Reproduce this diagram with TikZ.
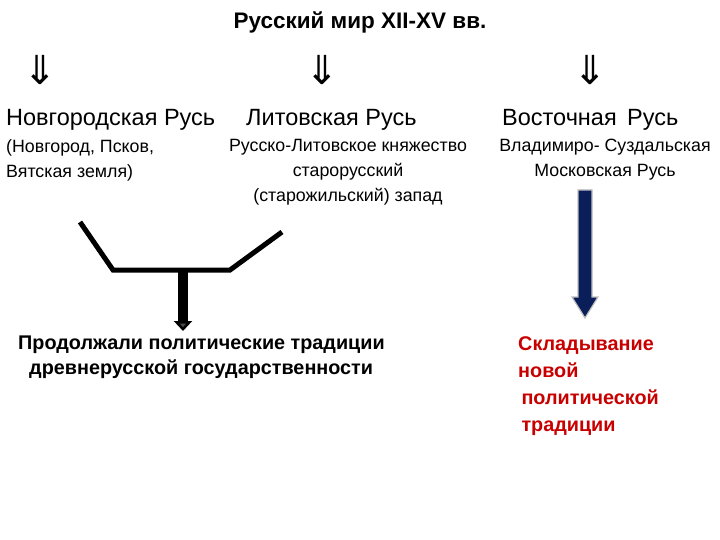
\documentclass[tikz,border=0pt]{standalone}
\usepackage{fontspec}
\setmainfont{Liberation Sans}
\newfontfamily\djv{DejaVu Sans}
\usetikzlibrary{arrows.meta}
\begin{document}
\begin{tikzpicture}[x=1pt,y=-1pt,
  big/.style={font=\fontsize{23.5}{26}\selectfont,anchor=west,inner sep=0},
  small/.style={font=\fontsize{17.8}{25}\selectfont,anchor=north west,inner sep=0,align=left},
  dbl/.style={font=\djv\fontsize{40}{40}\selectfont,inner sep=0},
  blk/.style={font=\bfseries\fontsize{19.8}{25}\selectfont,inner sep=0,align=left}]
\useasboundingbox (0,0) rectangle (720,540);
\node[inner sep=0,font=\bfseries\fontsize{22.5}{24}\selectfont] (t) at (360,22) {Русский мир XII-XV вв.};
\node[dbl] (d1) at (40,70) {⇓};
\node[dbl] (d2) at (322,70) {⇓};
\node[dbl] (d3) at (590,70) {⇓};
\node[big] (n1) at (6,120) {Новгородская Русь};
\node[big] (n2) at (246,120) {Литовская Русь};
\node[big] (n3) at (502,120) {Восточная\, Русь};
\node[small] (s1) at (6,139) {(Новгород, Псков,\\ Вятская земля)};
\node[small,align=center,anchor=north] (s2) at (348,139) {Русско-Литовское княжество\\старорусский\\ (старожильский) запад};
\node[small,align=center,anchor=north] (s3) at (605,139) {Владимиро- Суздальская\\Московская Русь};
\coordinate (p1) at (80,222); \coordinate (p2) at (113,270);
\coordinate (p3) at (230,270); \coordinate (p4) at (282,232);
\draw[line width=5pt,line join=miter] (p1) -- (p2) -- (p3) -- (p4);
\coordinate (a1) at (183,272); \coordinate (a2) at (183,331);
\draw[line width=10pt,draw=black,-{Triangle[width=18pt,length=10pt,fill=gray!60!black]}] (a1) -- (a2);
\coordinate (b1) at (585,190); \coordinate (b2) at (585,316);
\draw[draw=gray!50,fill={rgb,255:red,10;green,30;blue,90},line width=1.2pt]
  (578,190) -- (592,190) -- (592,297) -- (598,297) -- (585,318) -- (572,297) -- (578,297) -- cycle;
\node[blk,anchor=north west] (k1) at (18,336) {Продолжали политические традиции\\ \ \ древнерусской государственности};
\node[blk,anchor=north west,text={rgb,255:red,200;green,0;blue,0},font=\bfseries\fontsize{19.8}{27}\selectfont] (k2) at (518,336) {Складывание\\новой\\ \,политической\\ \,традиции};
\end{tikzpicture}
\end{document}
